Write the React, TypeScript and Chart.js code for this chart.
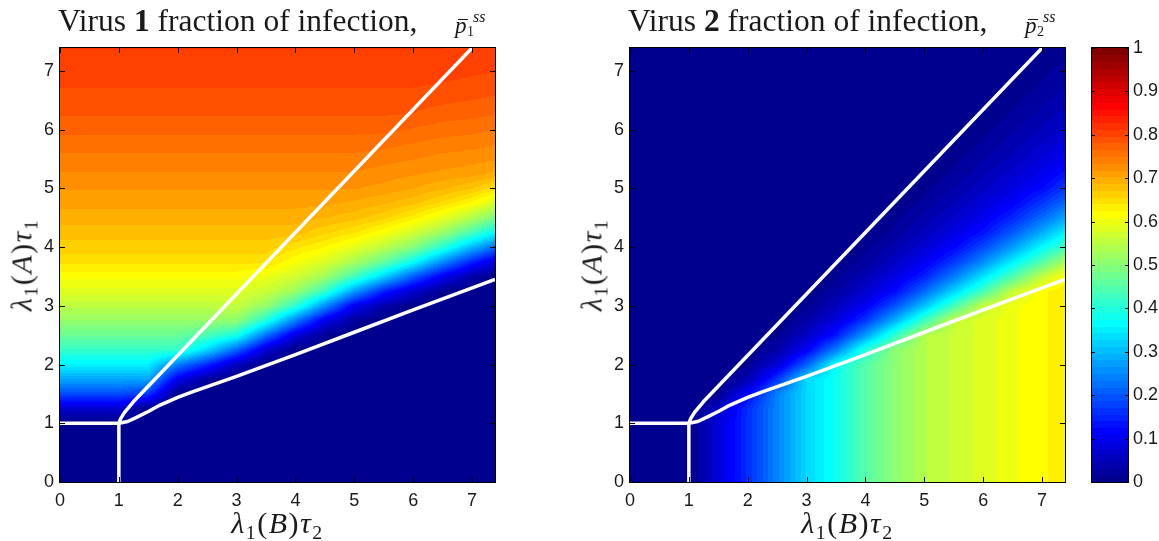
import React, { useEffect, useRef } from "react";
import { Chart, registerables } from "chart.js";

Chart.register(...registerables);

// ---------- data ----------
const X_GRID = [0, 0.5, 1, 1.5, 2, 2.5, 3, 3.5, 4, 4.5, 5, 5.5, 6, 6.5, 7, 7.5];
const Y_GRID = [
  0, 0.25, 0.5, 0.75, 1, 1.25, 1.5, 1.75, 2, 2.25, 2.5, 2.75, 3, 3.25, 3.5, 3.75, 4, 4.25, 4.5, 4.75, 5, 5.25,
  5.5, 5.75, 6, 6.25, 6.5, 6.75, 7, 7.25, 7.5,
];

// Virus 1 fraction: one column per X_GRID value, entries follow Y_GRID
const VIRUS1_COLUMNS: number[][] = [
  [0, 0, 0, 0, 0, 0.07, 0.19, 0.28, 0.355, 0.42, 0.47, 0.515, 0.553, 0.587, 0.615, 0.645, 0.665, 0.68, 0.695, 0.708, 0.72, 0.733, 0.745, 0.757, 0.77, 0.782, 0.79, 0.798, 0.805, 0.81, 0.815],
  [0, 0, 0, 0, 0, 0.07, 0.19, 0.28, 0.355, 0.42, 0.47, 0.515, 0.553, 0.587, 0.615, 0.645, 0.665, 0.68, 0.695, 0.708, 0.72, 0.733, 0.745, 0.757, 0.77, 0.782, 0.79, 0.798, 0.805, 0.81, 0.815],
  [0, 0, 0, 0, 0, 0.07, 0.19, 0.28, 0.355, 0.42, 0.47, 0.515, 0.553, 0.587, 0.615, 0.645, 0.665, 0.68, 0.695, 0.708, 0.72, 0.733, 0.745, 0.757, 0.77, 0.782, 0.79, 0.798, 0.805, 0.81, 0.815],
  [0, 0, 0, 0, 0, 0, 0.17, 0.28, 0.355, 0.42, 0.47, 0.515, 0.553, 0.587, 0.615, 0.645, 0.665, 0.68, 0.695, 0.708, 0.72, 0.733, 0.745, 0.757, 0.77, 0.782, 0.79, 0.798, 0.805, 0.81, 0.815],
  [0, 0, 0, 0, 0, 0, 0, 0.1, 0.24, 0.42, 0.47, 0.515, 0.553, 0.587, 0.615, 0.645, 0.665, 0.68, 0.695, 0.708, 0.72, 0.733, 0.745, 0.757, 0.77, 0.782, 0.79, 0.798, 0.805, 0.81, 0.815],
  [0, 0, 0, 0, 0, 0, 0, 0.02, 0.155, 0.33, 0.44, 0.515, 0.553, 0.587, 0.615, 0.645, 0.665, 0.68, 0.695, 0.708, 0.72, 0.733, 0.745, 0.757, 0.77, 0.782, 0.79, 0.798, 0.805, 0.81, 0.815],
  [0, 0, 0, 0, 0, 0, 0, 0, 0.05, 0.215, 0.39, 0.51, 0.56, 0.587, 0.615, 0.645, 0.665, 0.68, 0.695, 0.708, 0.72, 0.733, 0.745, 0.757, 0.77, 0.782, 0.79, 0.798, 0.805, 0.81, 0.815],
  [0, 0, 0, 0, 0, 0, 0, 0, 0, 0.07, 0.23, 0.4, 0.515, 0.567, 0.6, 0.645, 0.665, 0.68, 0.695, 0.708, 0.72, 0.733, 0.745, 0.757, 0.77, 0.782, 0.79, 0.798, 0.805, 0.81, 0.815],
  [0, 0, 0, 0, 0, 0, 0, 0, 0, 0, 0.084, 0.243, 0.413, 0.52, 0.573, 0.612, 0.645, 0.68, 0.695, 0.708, 0.72, 0.733, 0.745, 0.757, 0.77, 0.782, 0.79, 0.798, 0.805, 0.81, 0.815],
  [0, 0, 0, 0, 0, 0, 0, 0, 0, 0, 0.015, 0.095, 0.257, 0.424, 0.527, 0.582, 0.625, 0.66, 0.688, 0.708, 0.72, 0.733, 0.745, 0.757, 0.77, 0.782, 0.79, 0.798, 0.805, 0.81, 0.815],
  [0, 0, 0, 0, 0, 0, 0, 0, 0, 0, 0, 0.02, 0.105, 0.272, 0.435, 0.534, 0.593, 0.643, 0.678, 0.7, 0.72, 0.733, 0.745, 0.757, 0.77, 0.782, 0.79, 0.798, 0.805, 0.81, 0.815],
  [0, 0, 0, 0, 0, 0, 0, 0, 0, 0, 0, 0, 0.036, 0.15, 0.326, 0.469, 0.552, 0.614, 0.661, 0.69, 0.713, 0.727, 0.74, 0.755, 0.77, 0.782, 0.79, 0.798, 0.805, 0.81, 0.815],
  [0, 0, 0, 0, 0, 0, 0, 0, 0, 0, 0, 0, 0, 0.069, 0.208, 0.375, 0.5, 0.573, 0.633, 0.676, 0.704, 0.721, 0.735, 0.749, 0.764, 0.78, 0.79, 0.798, 0.805, 0.81, 0.815],
  [0, 0, 0, 0, 0, 0, 0, 0, 0, 0, 0, 0, 0, 0.01, 0.105, 0.256, 0.408, 0.521, 0.596, 0.652, 0.69, 0.715, 0.729, 0.743, 0.758, 0.772, 0.785, 0.795, 0.805, 0.81, 0.815],
  [0, 0, 0, 0, 0, 0, 0, 0, 0, 0, 0, 0, 0, 0, 0.03, 0.149, 0.3, 0.44, 0.543, 0.622, 0.673, 0.71, 0.725, 0.74, 0.755, 0.77, 0.781, 0.791, 0.8, 0.807, 0.812],
  [0, 0, 0, 0, 0, 0, 0, 0, 0, 0, 0, 0, 0, 0, 0, 0.065, 0.202, 0.347, 0.471, 0.567, 0.643, 0.695, 0.72, 0.734, 0.749, 0.764, 0.777, 0.788, 0.797, 0.804, 0.81],
];

// Virus 2 fraction: one column per X_GRID value, entries follow Y_GRID
const VIRUS2_COLUMNS: number[][] = [
  [0, 0, 0, 0, 0, 0, 0, 0, 0, 0, 0, 0, 0, 0, 0, 0, 0, 0, 0, 0, 0, 0, 0, 0, 0, 0, 0, 0, 0, 0, 0],
  [0, 0, 0, 0, 0, 0, 0, 0, 0, 0, 0, 0, 0, 0, 0, 0, 0, 0, 0, 0, 0, 0, 0, 0, 0, 0, 0, 0, 0, 0, 0],
  [0, 0, 0, 0, 0, 0, 0, 0, 0, 0, 0, 0, 0, 0, 0, 0, 0, 0, 0, 0, 0, 0, 0, 0, 0, 0, 0, 0, 0, 0, 0],
  [0.08, 0.08, 0.08, 0.08, 0.08, 0.058, 0.011, 0, 0, 0, 0, 0, 0, 0, 0, 0, 0, 0, 0, 0, 0, 0, 0, 0, 0, 0, 0, 0, 0, 0, 0],
  [0.16, 0.16, 0.16, 0.16, 0.16, 0.16, 0.116, 0.04, 0.011, 0, 0, 0, 0, 0, 0, 0, 0, 0, 0, 0, 0, 0, 0, 0, 0, 0, 0, 0, 0, 0, 0],
  [0.245, 0.245, 0.245, 0.245, 0.245, 0.245, 0.245, 0.168, 0.077, 0.032, 0.011, 0, 0, 0, 0, 0, 0, 0, 0, 0, 0, 0, 0, 0, 0, 0, 0, 0, 0, 0, 0],
  [0.33, 0.33, 0.33, 0.33, 0.33, 0.33, 0.33, 0.33, 0.209, 0.108, 0.058, 0.028, 0.011, 0, 0, 0, 0, 0, 0, 0, 0, 0, 0, 0, 0, 0, 0, 0, 0, 0, 0],
  [0.38, 0.38, 0.38, 0.38, 0.38, 0.38, 0.38, 0.38, 0.378, 0.241, 0.136, 0.083, 0.047, 0.025, 0.011, 0, 0, 0, 0, 0, 0, 0, 0, 0, 0, 0, 0, 0, 0, 0, 0],
  [0.45, 0.45, 0.45, 0.45, 0.45, 0.45, 0.45, 0.45, 0.45, 0.402, 0.269, 0.167, 0.104, 0.069, 0.042, 0.022, 0.011, 0, 0, 0, 0, 0, 0, 0, 0, 0, 0, 0, 0, 0, 0],
  [0.505, 0.505, 0.505, 0.505, 0.505, 0.505, 0.505, 0.505, 0.505, 0.505, 0.415, 0.289, 0.194, 0.122, 0.086, 0.058, 0.038, 0.02, 0.011, 0, 0, 0, 0, 0, 0, 0, 0, 0, 0, 0, 0],
  [0.545, 0.545, 0.545, 0.545, 0.545, 0.545, 0.545, 0.545, 0.545, 0.545, 0.545, 0.425, 0.308, 0.217, 0.146, 0.102, 0.074, 0.05, 0.035, 0.02, 0.011, 0, 0, 0, 0, 0, 0, 0, 0, 0, 0],
  [0.565, 0.565, 0.565, 0.565, 0.565, 0.565, 0.565, 0.565, 0.565, 0.565, 0.565, 0.56, 0.432, 0.324, 0.236, 0.168, 0.117, 0.087, 0.065, 0.046, 0.032, 0.019, 0.011, 0, 0, 0, 0, 0, 0, 0, 0],
  [0.585, 0.585, 0.585, 0.585, 0.585, 0.585, 0.585, 0.585, 0.585, 0.585, 0.585, 0.585, 0.56, 0.432, 0.34, 0.253, 0.186, 0.131, 0.101, 0.078, 0.058, 0.043, 0.03, 0.018, 0.011, 0, 0, 0, 0, 0, 0],
  [0.605, 0.605, 0.605, 0.605, 0.605, 0.605, 0.605, 0.605, 0.605, 0.605, 0.605, 0.605, 0.605, 0.56, 0.443, 0.353, 0.269, 0.204, 0.151, 0.113, 0.088, 0.07, 0.051, 0.04, 0.028, 0.018, 0.011, 0, 0, 0, 0],
  [0.622, 0.622, 0.622, 0.622, 0.622, 0.622, 0.622, 0.622, 0.622, 0.622, 0.622, 0.622, 0.622, 0.622, 0.557, 0.447, 0.365, 0.285, 0.22, 0.168, 0.123, 0.1, 0.081, 0.064, 0.048, 0.037, 0.027, 0.018, 0.011, 0.004, 0],
  [0.638, 0.638, 0.638, 0.638, 0.638, 0.638, 0.638, 0.638, 0.638, 0.638, 0.638, 0.638, 0.638, 0.638, 0.635, 0.556, 0.45, 0.375, 0.298, 0.233, 0.183, 0.139, 0.11, 0.089, 0.073, 0.058, 0.045, 0.035, 0.025, 0.017, 0.011],
];

// boundary curves (white lines)
const UPPER_LINE_X = [1, 1.03, 1.1, 1.25, 7.0];
const UPPER_LINE_Y = [1, 1.08, 1.19, 1.37, 7.39];
const LOWER_LINE_X = [1, 1.15, 1.3, 1.5, 1.7, 2.0, 2.26, 3, 4, 5, 6, 7.39];
const LOWER_LINE_Y = [1, 1.03, 1.1, 1.2, 1.31, 1.44, 1.54, 1.8, 2.17, 2.55, 2.93, 3.45];
const THRESHOLD_H_X = [0, 1];
const THRESHOLD_H_Y = [1, 1];
const THRESHOLD_V_X = [1, 1];
const THRESHOLD_V_Y = [0, 1];

const AXIS_MIN = 0;
const AXIS_MAX = 7.39;
const AXIS_TICKS = [0, 1, 2, 3, 4, 5, 6, 7];
const COLORBAR_TICKS = [0, 0.1, 0.2, 0.3, 0.4, 0.5, 0.6, 0.7, 0.8, 0.9, 1];
const COLORBAR_LABELS = ["0", "0.1", "0.2", "0.3", "0.4", "0.5", "0.6", "0.7", "0.8", "0.9", "1"];
const COLOR_LEVELS = 64;

// ---------- helpers ----------
const TEXT_COLOR = "#1a1a1a";
const TICK_FONT = { family: "'Liberation Sans', Arial, Helvetica, sans-serif", size: 18 };
const SERIF = "'Liberation Serif', 'Times New Roman', serif";

function jetComponent(k: number): number {
  if (k < 1 || k > 47) return 0;
  if (k <= 16) return k / 16;
  if (k <= 31) return 1;
  return (48 - k) / 16;
}
function jetColor(index: number): [number, number, number] {
  // MATLAB jet(64), index 1..64
  const r = jetComponent(index - 24);
  const g = jetComponent(index - 8);
  const b = jetComponent(index + 8);
  return [Math.round(r * 255), Math.round(g * 255), Math.round(b * 255)];
}
function valueToRgb(v: number): [number, number, number] {
  let idx = Math.floor(v * COLOR_LEVELS) + 1;
  if (idx < 1) idx = 1;
  if (idx > COLOR_LEVELS) idx = COLOR_LEVELS;
  return jetColor(idx);
}
function findCell(grid: number[], v: number): [number, number] {
  const n = grid.length;
  if (v <= grid[0]) return [0, 0];
  if (v >= grid[n - 1]) return [n - 2, 1];
  let i = 0;
  while (i < n - 2 && grid[i + 1] <= v) i++;
  return [i, (v - grid[i]) / (grid[i + 1] - grid[i])];
}
// bilinear shading between the grid samples
function sampleGrid(cols: number[][], x: number, y: number): number {
  const [i0, tx] = findCell(X_GRID, x);
  const [j0, ty] = findCell(Y_GRID, y);
  return (
    (1 - tx) * (1 - ty) * cols[i0][j0] +
    tx * (1 - ty) * cols[i0 + 1][j0] +
    (1 - tx) * ty * cols[i0][j0 + 1] +
    tx * ty * cols[i0 + 1][j0 + 1]
  );
}

function makeHeatmapPlugin(cols: number[][]) {
  return {
    id: "heatmap",
    beforeDatasetsDraw(chart: any) {
      const area = chart.chartArea;
      const xs = chart.scales.x;
      const ys = chart.scales.y;
      const left = Math.round(area.left);
      const top = Math.round(area.top);
      const w = Math.round(area.right) - left;
      const h = Math.round(area.bottom) - top;
      const off = document.createElement("canvas");
      off.width = w;
      off.height = h;
      const octx = off.getContext("2d")!;
      const img = octx.createImageData(w, h);
      for (let j = 0; j < h; j++) {
        const yv = ys.getValueForPixel(top + j + 0.5);
        for (let i = 0; i < w; i++) {
          const xv = xs.getValueForPixel(left + i + 0.5);
          const c = valueToRgb(sampleGrid(cols, xv, yv));
          const k = (j * w + i) * 4;
          img.data[k] = c[0];
          img.data[k + 1] = c[1];
          img.data[k + 2] = c[2];
          img.data[k + 3] = 255;
        }
      }
      octx.putImageData(img, 0, 0);
      chart.ctx.drawImage(off, left, top);
    },
  };
}

function makeFramePlugin(xTicks: number[] | null, yTicks: number[], len: number) {
  return {
    id: "frame",
    afterDraw(chart: any) {
      const ctx = chart.ctx;
      const a = chart.chartArea;
      const L = Math.round(a.left);
      const R = Math.round(a.right);
      const T = Math.round(a.top);
      const B = Math.round(a.bottom);
      ctx.save();
      ctx.strokeStyle = "#000";
      ctx.lineWidth = 1;
      ctx.beginPath();
      if (xTicks) {
        for (const v of xTicks) {
          const x = Math.round(chart.scales.x.getPixelForValue(v)) + 0.5;
          ctx.moveTo(x, B);
          ctx.lineTo(x, B - len);
          ctx.moveTo(x, T);
          ctx.lineTo(x, T + len);
        }
      }
      for (const v of yTicks) {
        const y = Math.round(chart.scales.y.getPixelForValue(v)) + 0.5;
        ctx.moveTo(L, y);
        ctx.lineTo(L + len, y);
        ctx.moveTo(R, y);
        ctx.lineTo(R - len, y);
      }
      ctx.stroke();
      ctx.strokeRect(L - 0.5, T - 0.5, R - L + 1, B - T + 1);
      ctx.restore();
    },
  };
}

function lineDataset(xs: number[], ys: number[]) {
  return {
    data: xs.map((x, i) => ({ x, y: ys[i] })),
    showLine: true,
    borderColor: "#ffffff",
    borderWidth: 3.5,
    pointRadius: 0,
    fill: false,
    tension: 0,
    borderJoinStyle: "round" as const,
    clip: 0,
  };
}

function makePanelConfig(cols: number[][]): any {
  return {
    type: "scatter",
    data: {
      datasets: [
        lineDataset(UPPER_LINE_X, UPPER_LINE_Y),
        lineDataset(LOWER_LINE_X, LOWER_LINE_Y),
        lineDataset(THRESHOLD_H_X, THRESHOLD_H_Y),
        lineDataset(THRESHOLD_V_X, THRESHOLD_V_Y),
      ],
    },
    options: {
      animation: false,
      responsive: false,
      devicePixelRatio: 1,
      layout: { padding: { left: 0, top: 48, right: 5, bottom: 0 } },
      plugins: { legend: { display: false }, tooltip: { enabled: false } },
      scales: {
        x: {
          type: "linear",
          min: AXIS_MIN,
          max: AXIS_MAX,
          afterBuildTicks: (s: any) => {
            s.ticks = AXIS_TICKS.map((v) => ({ value: v }));
          },
          afterFit: (s: any) => {
            s.height = 59;
          },
          grid: { display: false, drawTicks: false },
          border: { display: false },
          ticks: { font: TICK_FONT, color: TEXT_COLOR, padding: 8, maxRotation: 0, autoSkip: false },
        },
        y: {
          type: "linear",
          min: AXIS_MIN,
          max: AXIS_MAX,
          afterBuildTicks: (s: any) => {
            s.ticks = AXIS_TICKS.map((v) => ({ value: v }));
          },
          afterFit: (s: any) => {
            s.width = 60;
          },
          grid: { display: false, drawTicks: false },
          border: { display: false },
          ticks: { font: TICK_FONT, color: TEXT_COLOR, padding: 6, autoSkip: false },
        },
      },
    },
    plugins: [makeHeatmapPlugin(cols), makeFramePlugin(AXIS_TICKS, AXIS_TICKS, 5)],
  };
}

const colorbarPlugin = {
  id: "colorbar",
  beforeDatasetsDraw(chart: any) {
    const ctx = chart.ctx;
    const a = chart.chartArea;
    const ys = chart.scales.y;
    const L = Math.round(a.left);
    const R = Math.round(a.right);
    for (let k = 0; k < COLOR_LEVELS; k++) {
      const y0 = ys.getPixelForValue(k / COLOR_LEVELS);
      const y1 = ys.getPixelForValue((k + 1) / COLOR_LEVELS);
      const c = jetColor(k + 1);
      ctx.fillStyle = `rgb(${c[0]},${c[1]},${c[2]})`;
      ctx.fillRect(L, Math.floor(y1), R - L, Math.ceil(y0) - Math.floor(y1));
    }
  },
};

function makeColorbarConfig(): any {
  return {
    type: "scatter",
    data: { datasets: [] },
    options: {
      animation: false,
      responsive: false,
      devicePixelRatio: 1,
      layout: { padding: { left: 22, top: 48, right: 0, bottom: 59 } },
      plugins: { legend: { display: false }, tooltip: { enabled: false } },
      scales: {
        x: { type: "linear", min: 0, max: 1, display: false },
        y: {
          type: "linear",
          position: "right",
          min: 0,
          max: 1,
          afterBuildTicks: (s: any) => {
            s.ticks = COLORBAR_TICKS.map((v) => ({ value: v }));
          },
          afterFit: (s: any) => {
            s.width = 31;
          },
          grid: { display: false, drawTicks: false },
          border: { display: false },
          ticks: {
            font: TICK_FONT,
            color: TEXT_COLOR,
            padding: 5,
            autoSkip: false,
            callback: (_v: any, i: number) => COLORBAR_LABELS[i],
          },
        },
      },
    },
    plugins: [colorbarPlugin, makeFramePlugin(null, COLORBAR_TICKS, 3)],
  };
}

// ---------- text components ----------
function Sub({ children }: { children: React.ReactNode }) {
  return (
    <span style={{ fontSize: "0.66em", fontStyle: "normal", position: "relative", top: "0.32em" }}>{children}</span>
  );
}

function Title({ left, num }: { left: number; num: string }) {
  return (
    <>
      <div
        style={{
          position: "absolute",
          left,
          top: 5,
          font: `31.5px ${SERIF}`,
          lineHeight: "31.5px",
          whiteSpace: "nowrap",
          color: TEXT_COLOR,
        }}
      >
        Virus <b>{num}</b> fraction of infection,
      </div>
      <div style={{ position: "absolute", left: left + 397, top: 0, width: 60, height: 45, color: TEXT_COLOR }}>
        <span style={{ position: "absolute", left: 0, top: 14, font: `italic 23px ${SERIF}`, lineHeight: "23px" }}>p</span>
        <span style={{ position: "absolute", left: 3, top: 19, width: 10, height: 0, borderTop: `1.6px solid ${TEXT_COLOR}` }} />
        <span style={{ position: "absolute", left: 18, top: 9, font: `italic 16px ${SERIF}`, lineHeight: "16px" }}>ss</span>
        <span style={{ position: "absolute", left: 12, top: 25, font: `14px ${SERIF}`, lineHeight: "14px" }}>{num}</span>
      </div>
    </>
  );
}

function MathLabel({ letter, sub }: { letter: string; sub: string }) {
  return (
    <span>
      <i>λ</i>
      <Sub>1</Sub>(<i>{letter}</i>)<i>τ</i>
      <Sub>{sub}</Sub>
    </span>
  );
}

function XLabel({ center }: { center: number }) {
  return (
    <div
      style={{
        position: "absolute",
        left: center,
        top: 508,
        transform: "translateX(-50%)",
        font: `30px ${SERIF}`,
        lineHeight: "30px",
        letterSpacing: "1.5px",
        whiteSpace: "nowrap",
        color: TEXT_COLOR,
      }}
    >
      <MathLabel letter="B" sub="2" />
    </div>
  );
}

function YLabel({ center }: { center: number }) {
  return (
    <div
      style={{
        position: "absolute",
        left: center,
        top: 265,
        transform: "translate(-50%, -50%) rotate(-90deg)",
        font: `30px ${SERIF}`,
        lineHeight: "30px",
        letterSpacing: "1.5px",
        whiteSpace: "nowrap",
        color: TEXT_COLOR,
      }}
    >
      <MathLabel letter="A" sub="1" />
    </div>
  );
}

export default function App() {
  const leftRef = useRef<HTMLCanvasElement>(null);
  const rightRef = useRef<HTMLCanvasElement>(null);
  const cbRef = useRef<HTMLCanvasElement>(null);

  useEffect(() => {
    const c1 = new Chart(leftRef.current!, makePanelConfig(VIRUS1_COLUMNS));
    const c2 = new Chart(rightRef.current!, makePanelConfig(VIRUS2_COLUMNS));
    const c3 = new Chart(cbRef.current!, makeColorbarConfig());
    return () => {
      c1.destroy();
      c2.destroy();
      c3.destroy();
    };
  }, []);

  return (
    <div
      style={{
        position: "fixed",
        left: 0,
        top: 0,
        width: 1159,
        height: 541,
        background: "#ffffff",
        overflow: "hidden",
      }}
    >
      <canvas ref={leftRef} width={500} height={541} style={{ position: "absolute", left: 0, top: 0, width: 500, height: 541 }} />
      <canvas ref={rightRef} width={500} height={541} style={{ position: "absolute", left: 570, top: 0, width: 500, height: 541 }} />
      <canvas ref={cbRef} width={89} height={541} style={{ position: "absolute", left: 1070, top: 0, width: 89, height: 541 }} />
      <Title left={58} num="1" />
      <Title left={628} num="2" />
      <XLabel center={277.5} />
      <XLabel center={847.5} />
      <YLabel center={23} />
      <YLabel center={593} />
    </div>
  );
}
